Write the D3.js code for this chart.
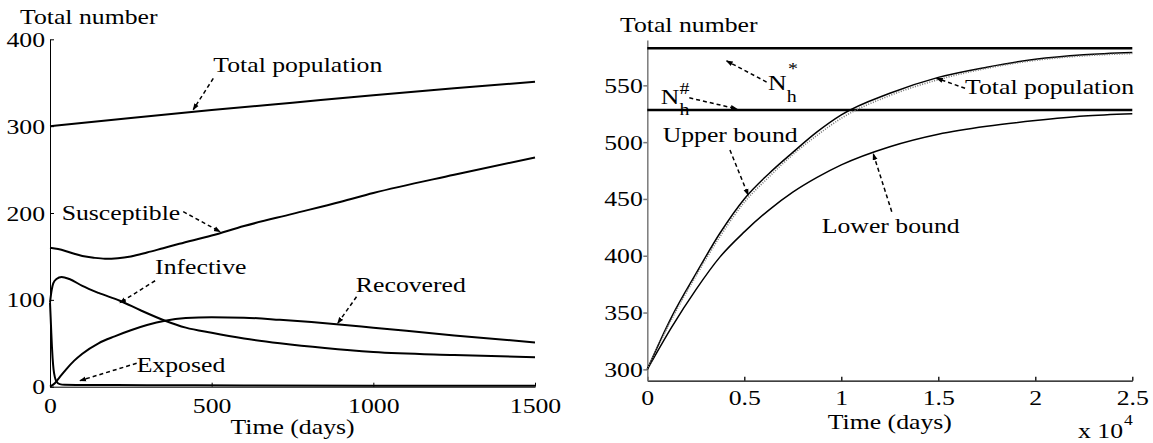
<!DOCTYPE html>
<html>
<head>
<meta charset="utf-8">
<script src="https://cdn.jsdelivr.net/npm/d3@7"></script>
<style>
  body { margin: 0; background: #fff; }
  svg text { font-family: "Liberation Serif", "DejaVu Serif", serif !important; fill: #000; }
</style>
</head>
<body>
<div id="chart"></div>
<script>
// ---- left panel: SEIR compartments over 1500 days ----
var leftXTicks = [0, 500, 1000, 1500];
var leftYTicks = [0, 100, 200, 300, 400];

var totalDays = [0, 250, 500, 750, 1000, 1250, 1500];
var totalPop  = [300, 309.5, 318.5, 327, 335.5, 343.5, 351];

var suscDays    = [0, 25, 50, 75, 100, 135, 170, 210, 250, 300, 350, 400, 500, 600, 750, 900, 1000, 1250, 1500];
var susceptible = [160, 158.5, 156, 153, 150.5, 148.5, 147.4, 148, 150, 154.5, 159.5, 164.5, 174, 185, 199, 213, 223, 244, 264];

var infDays   = [0, 5, 10, 20, 36, 60, 100, 150, 216, 280, 356, 420, 500, 600, 711, 850, 1000, 1250, 1500];
var infective = [97, 111, 119, 124, 126.3, 124, 116, 108, 99, 88, 76, 68, 62, 55.5, 50, 44.5, 40, 36.5, 34];

var expDays = [0, 2, 4, 6, 8, 11, 15, 20, 30, 45, 100, 300, 600, 1000, 1500];
var exposed = [97, 80, 62, 46, 33, 20, 11, 6, 3, 2.2, 2, 1.8, 1.5, 1.2, 1];

var recDays   = [0, 15, 30, 50, 75, 100, 150, 200, 250, 300, 356, 420, 500, 600, 711, 886, 1000, 1250, 1500];
var recovered = [0, 4, 11, 20, 30, 38, 50, 58, 65, 71, 76, 79, 80, 79.5, 77, 72, 68, 59, 51];

// ---- right panel: total population and its bounds (time in 10^4 days) ----
var rightXTicks = [0, 0.5, 1, 1.5, 2, 2.5];
var rightYTicks = [300, 350, 400, 450, 500, 550];

var boundTime  = [0, 0.125, 0.25, 0.375, 0.5, 0.625, 0.75, 0.875, 1, 1.25, 1.5, 1.75, 2, 2.25, 2.5];
var upperBound = [300, 346, 384, 420, 450, 472, 491, 509, 524, 543, 557, 566, 573, 577, 579];
var totalRight = [300, 344, 382, 417, 447, 469, 489, 506, 521, 541, 555, 565, 572, 576, 578];
var lowerBound = [300, 337, 370, 399, 421, 440, 456, 469, 480, 496, 507, 514, 519, 523, 525];

var nStar = 582.6;
var nHash = 528.3;

var W = 1153, H = 443;
var SX = 1.17;      // reference text is a bit wider than plain Times
var FS = 22;
var FONT = '"Liberation Serif", "DejaVu Serif", serif';

var svg = d3.select("#chart").append("svg")
    .attr("width", W)
    .attr("height", H)
    .attr("font-family", FONT);

svg.append("defs").append("marker")
    .attr("id", "ah")
    .attr("viewBox", "0 -3 7 6")
    .attr("refX", 6).attr("refY", 0)
    .attr("markerWidth", 7).attr("markerHeight", 6)
    .attr("markerUnits", "userSpaceOnUse")
    .attr("orient", "auto")
  .append("path")
    .attr("d", "M0,-2.5L7,0L0,2.5Z")
    .attr("fill", "#000");

function label(g, x, y, str, size, anchor) {
  return g.append("text")
      .attr("transform", "translate(" + x + "," + y + ") scale(" + SX + ",1)")
      .attr("text-anchor", anchor || "start")
      .style("font-family", FONT)
      .style("font-size", (size || FS) + "px")
      .text(str);
}

function arrow(g, x1, y1, x2, y2) {
  g.append("line")
      .attr("x1", x1).attr("y1", y1)
      .attr("x2", x2).attr("y2", y2)
      .attr("stroke", "#000")
      .attr("stroke-width", 1.5)
      .attr("stroke-dasharray", "4,3")
      .attr("marker-end", "url(#ah)");
}

function series(xs, ys) {
  return xs.map(function(d, i) { return [d, ys[i]]; });
}

function styleTicks(sel) {
  sel.attr("transform", "scale(" + SX + ",1)")
     .style("font-family", FONT)
     .style("font-size", FS + "px");
}

// ================= left panel =================
var xL = d3.scaleLinear().domain([0, 1500]).range([50, 535]);
var yL = d3.scaleLinear().domain([0, 400]).range([386.7, 39.3]);
var gL = svg.append("g");

var xAxisL = gL.append("g")
    .attr("transform", "translate(0," + yL(0) + ")")
    .call(d3.axisBottom(xL).tickValues(leftXTicks).tickFormat(d3.format("d"))
      .tickSizeInner(-4).tickSizeOuter(0));
xAxisL.selectAll("text").attr("y", 26.6).attr("dy", 0).call(styleTicks);

var yAxisL = gL.append("g")
    .attr("transform", "translate(" + xL(0) + ",0)")
    .call(d3.axisLeft(yL).tickValues(leftYTicks).tickFormat(d3.format("d"))
      .tickSizeInner(-4).tickSizeOuter(0));
yAxisL.selectAll("text").attr("x", -5 / SX).call(styleTicks);

gL.selectAll(".domain, .tick line").attr("stroke", "#000");

var lineL = d3.line()
    .x(function(d) { return xL(d[0]); })
    .y(function(d) { return yL(d[1]); })
    .curve(d3.curveMonotoneX);

[series(totalDays, totalPop), series(suscDays, susceptible), series(infDays, infective),
 series(expDays, exposed), series(recDays, recovered)].forEach(function(s) {
  gL.append("path")
      .datum(s)
      .attr("d", lineL)
      .attr("fill", "none")
      .attr("stroke", "#000")
      .attr("stroke-width", 2);
});

label(gL, 20, 24, "Total number");
label(gL, (xL(0) + xL(1500)) / 2, 434, "Time (days)", FS, "middle");

label(gL, xL(505), yL(362.7), "Total population");
arrow(gL, xL(505), yL(355), xL(443), yL(319));
label(gL, xL(36), yL(192), "Susceptible");
arrow(gL, xL(412), yL(201.5), xL(526), yL(178.5));
label(gL, xL(325), yL(129.8), "Infective");
arrow(gL, xL(325), yL(122), xL(216.5), yL(96.7));
label(gL, xL(946), yL(109.4), "Recovered");
arrow(gL, xL(948), yL(103.6), xL(890), yL(73));
label(gL, xL(268), yL(17.3), "Exposed");
arrow(gL, xL(268), yL(27), xL(93), yL(7));

// ================= right panel =================
var xR = d3.scaleLinear().domain([0, 2.5]).range([647.3, 1132.3]);
var yR = d3.scaleLinear().domain([290, 590]).range([380.7, 39.9]);
var gR = svg.append("g");

var xAxisR = gR.append("g")
    .attr("transform", "translate(0," + yR(290) + ")")
    .call(d3.axisBottom(xR).tickValues(rightXTicks).tickFormat(d3.format("~g"))
      .tickSizeInner(-4).tickSizeOuter(0));
xAxisR.selectAll("text").attr("y", 24.8).attr("dy", 0).call(styleTicks);
xAxisR.selectAll(".domain, .tick line").attr("stroke", "#000").attr("stroke-width", 1.3);

var yAxisR = gR.append("g")
    .attr("transform", "translate(" + xR(0) + ",0)")
    .call(d3.axisLeft(yR).tickValues(rightYTicks).tickSizeInner(4).tickSizeOuter(0));
yAxisR.selectAll("text").attr("x", -4.5 / SX).call(styleTicks);
yAxisR.selectAll(".domain, .tick line").attr("stroke", "#7a7a7a").attr("stroke-width", 1.5);

[nStar, nHash].forEach(function(v) {
  gR.append("line")
      .attr("x1", xR(0)).attr("x2", xR(2.5))
      .attr("y1", yR(v)).attr("y2", yR(v))
      .attr("stroke", "#000")
      .attr("stroke-width", 2.5);
});

var lineR = d3.line()
    .x(function(d) { return xR(d[0]); })
    .y(function(d) { return yR(d[1]); })
    .curve(d3.curveMonotoneX);

[upperBound, lowerBound].forEach(function(vals) {
  gR.append("path")
      .datum(series(boundTime, vals))
      .attr("d", lineR)
      .attr("fill", "none")
      .attr("stroke", "#000")
      .attr("stroke-width", 1.5);
});
gR.append("path")
    .datum(series(boundTime, totalRight))
    .attr("d", lineR)
    .attr("fill", "none")
    .attr("stroke", "#777")
    .attr("stroke-width", 1.6)
    .attr("stroke-dasharray", "1,1.5");

label(gR, 620, 32, "Total number");
label(gR, (xR(0) + xR(2.5)) / 2, 429, "Time (days)", FS, "middle");
label(gR, 1078, 437.5, "x 10");
label(gR, 1124, 425, "4", 15);

// N_h^*
label(gR, xR(0.622), yR(545.6), "N");
label(gR, xR(0.622) + 18.7, yR(545.6) + 11.7, "h", 17);
label(gR, xR(0.622) + 20, yR(545.6) - 16, "*", 17);
arrow(gR, xR(0.615), yR(552.9), xR(0.409), yR(571.5));

// N_h^#
label(gR, xR(0.069), yR(533.8), "N");
label(gR, xR(0.069) + 18.7, yR(533.8) + 11.7, "h", 17);
label(gR, xR(0.069) + 18.7, yR(533.8) - 10, "#", 17);
arrow(gR, xR(0.2165), yR(539), xR(0.461), yR(529.3));

label(gR, xR(0.079), yR(500.4), "Upper bound");
arrow(gR, xR(0.426), yR(493), xR(0.52), yR(453.5));
label(gR, xR(1.638), yR(542), "Total population");
arrow(gR, xR(1.638), yR(547.4), xR(1.492), yR(556.2));
label(gR, xR(0.899), yR(419.8), "Lower bound");
arrow(gR, xR(1.26), yR(438.8), xR(1.165), yR(489.6));
</script>
</body>
</html>
